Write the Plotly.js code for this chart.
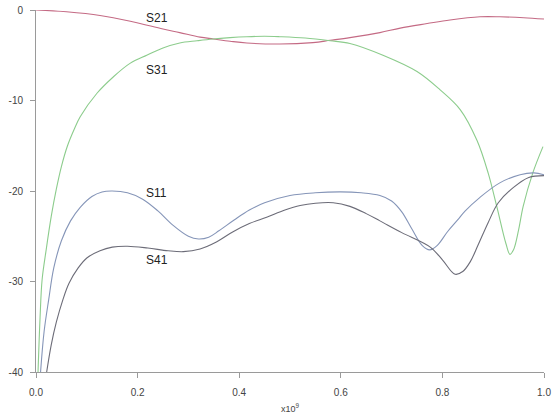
<!DOCTYPE html>
<html>
<head>
<meta charset="utf-8">
<script src="https://cdn.plot.ly/plotly-3.0.1.min.js"></script>
<style>html,body{margin:0;padding:0;background:#fff;}#chart{width:552px;height:416px;}</style>
</head>
<body>
<div id="chart"></div>
<script>
// Frequency in units of 1e9 Hz, magnitude in dB
const s21Freq = [0.0, 0.06, 0.126, 0.19, 0.25, 0.283, 0.323, 0.349, 0.382, 0.415, 0.48, 0.545, 0.579, 0.618, 0.677, 0.717, 0.77, 0.815, 0.874, 0.913, 0.96, 1.0];
const s21Val  = [0.0, -0.2, -0.6, -1.3, -2.1, -2.5, -3.0, -3.2, -3.45, -3.65, -3.76, -3.6, -3.35, -3.05, -2.5, -2.0, -1.5, -1.1, -0.75, -0.75, -0.85, -1.0];

const s31Freq = [0.004, 0.008, 0.012, 0.02, 0.03, 0.04, 0.05, 0.062, 0.075, 0.087, 0.12, 0.152, 0.185, 0.218, 0.25, 0.283, 0.317, 0.348, 0.382, 0.415, 0.45, 0.48, 0.53, 0.579, 0.618, 0.683, 0.75, 0.795, 0.835, 0.868, 0.89, 0.907, 0.925, 0.933, 0.94, 0.95, 0.959, 0.978, 0.998];
const s31Val  = [-40, -34, -29.8, -26.5, -22.8, -19.8, -17.3, -15.0, -13.2, -11.8, -9.2, -7.4, -5.9, -5.0, -4.2, -3.65, -3.4, -3.2, -3.05, -2.95, -2.9, -2.95, -3.1, -3.4, -3.7, -5.0, -6.8, -8.8, -11, -14.4, -18, -21.7, -25.8, -27.0, -26.5, -24.3, -21.7, -18, -15.1];

const s11Freq = [0.009, 0.016, 0.025, 0.035, 0.05, 0.068, 0.087, 0.11, 0.13, 0.15, 0.18, 0.21, 0.24, 0.27, 0.30, 0.32, 0.34, 0.36, 0.39, 0.42, 0.45, 0.50, 0.55, 0.60, 0.64, 0.677, 0.70, 0.72, 0.74, 0.76, 0.775, 0.79, 0.81, 0.83, 0.845, 0.874, 0.913, 0.953, 0.98, 1.0];
const s11Val  = [-40, -35.5, -32, -28.5, -25.5, -23.3, -21.8, -20.6, -20.1, -20.0, -20.2, -20.9, -22.2, -23.8, -25.0, -25.3, -25.1, -24.4, -23.2, -22.1, -21.3, -20.5, -20.2, -20.1, -20.2, -20.5, -21.1, -22.3, -24.2, -26.0, -26.5, -26.0, -24.5, -23.2, -22.2, -20.7, -19.1, -18.2, -18.0, -18.2];

const s41Freq = [0.021, 0.03, 0.04, 0.053, 0.065, 0.083, 0.1, 0.126, 0.15, 0.18, 0.22, 0.26, 0.29, 0.323, 0.356, 0.388, 0.42, 0.454, 0.49, 0.52, 0.55, 0.585, 0.618, 0.65, 0.677, 0.72, 0.776, 0.80, 0.825, 0.84, 0.855, 0.87, 0.89, 0.91, 0.94, 0.97, 1.0];
const s41Val  = [-40, -37, -34.5, -32, -30.2, -28.5, -27.4, -26.6, -26.2, -26.1, -26.3, -26.6, -26.7, -26.4, -25.6, -24.5, -23.6, -22.9, -22.1, -21.6, -21.35, -21.3, -21.7, -22.5, -23.3, -24.6, -26.2, -27.6, -29.2, -28.9, -27.8, -26.0, -23.5, -21.3, -19.6, -18.5, -18.3];

const seriesNames = ['S21', 'S31', 'S11', 'S41'];
const xTickVals = [0, 0.2, 0.4, 0.6, 0.8, 1.0];
const xTickText = ['0.0', '0.2', '0.4', '0.6', '0.8', '1.0'];
const yTickVals = [0, -10, -20, -30, -40];
const yTickText = ['0', '-10', '-20', '-30', '-40'];

const colors = ['#c46a84', '#8ccc8c', '#8595b8', '#6c6c78'];
const xs = [s21Freq, s31Freq, s11Freq, s41Freq];
const ys = [s21Val, s31Val, s11Val, s41Val];

const traces = seriesNames.map((n, i) => ({
  x: xs[i], y: ys[i], name: n, type: 'scatter', mode: 'lines',
  line: {color: colors[i], width: 1.1, shape: 'spline', smoothing: 1},
  hoverinfo: 'skip'
}));

const labelPos = [[0.238, -0.9], [0.238, -6.6], [0.238, -20.2], [0.238, -27.6]];
const annotations = seriesNames.map((n, i) => ({
  x: labelPos[i][0], y: labelPos[i][1], xref: 'x', yref: 'y', text: n, showarrow: false,
  font: {family: 'Liberation Sans, Arial, sans-serif', size: 12, color: '#222'}
}));

const axisFont = {family: 'Liberation Sans, Arial, sans-serif', size: 10, color: '#444'};

const layout = {
  width: 552, height: 416,
  margin: {l: 36, r: 8, t: 10, b: 44, pad: 0},
  paper_bgcolor: '#fff', plot_bgcolor: '#fff',
  showlegend: false,
  xaxis: {
    range: [0, 1], tickvals: xTickVals, ticktext: xTickText,
    showgrid: false, zeroline: false, showline: true, linecolor: '#9a9a9a', linewidth: 1,
    ticks: 'outside', ticklen: 5, tickcolor: '#9a9a9a', tickfont: axisFont, ticklabelstandoff: 6,
    title: {text: 'x10<sup>9</sup>', font: {family: 'Liberation Sans, Arial, sans-serif', size: 9, color: '#444'}, standoff: 8}
  },
  yaxis: {
    range: [-40, 0], tickvals: yTickVals, ticktext: yTickText,
    showgrid: false, zeroline: false, showline: true, linecolor: '#9a9a9a', linewidth: 1,
    ticks: 'outside', ticklen: 5, tickcolor: '#9a9a9a', tickfont: axisFont, ticklabelstandoff: 5
  },
  annotations: annotations
};

Plotly.newPlot('chart', traces, layout, {staticPlot: true, displayModeBar: false});
</script>
</body>
</html>
